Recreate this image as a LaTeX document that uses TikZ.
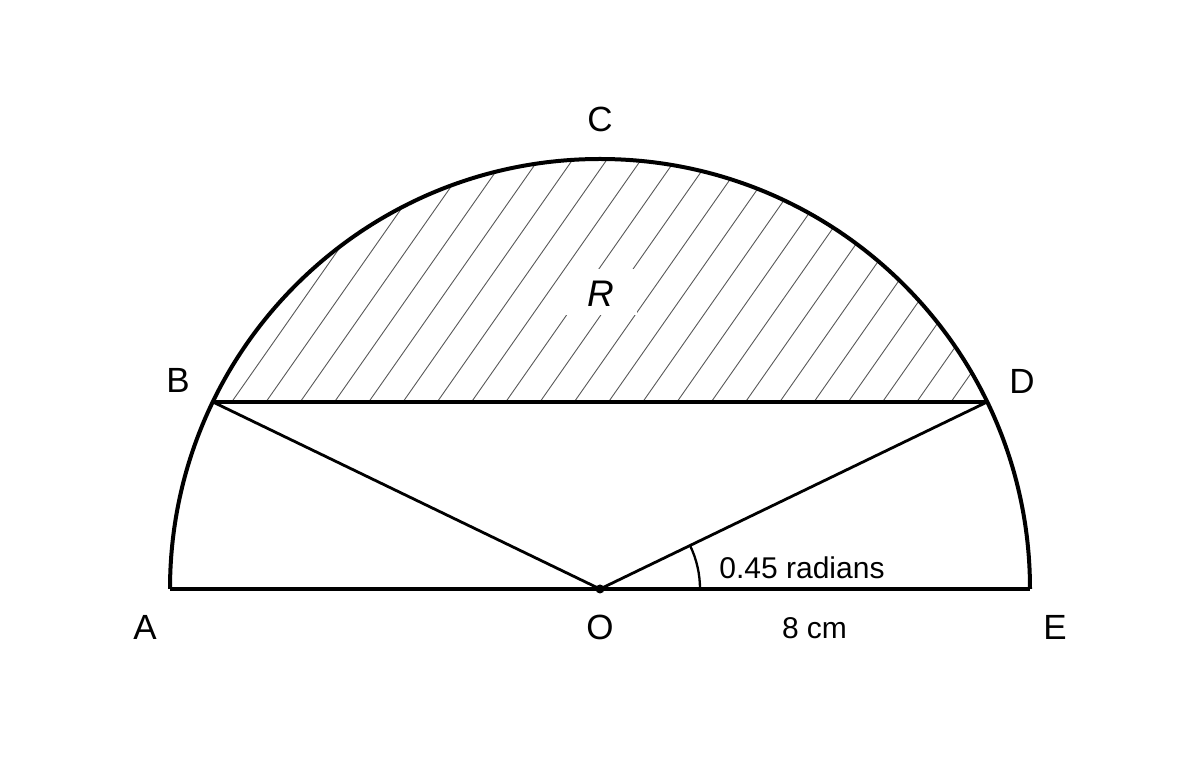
\documentclass[tikz,border=0pt]{standalone}
\usepackage{fontspec}
\setmainfont{Liberation Sans}
\usetikzlibrary{calc}
\begin{document}
\begin{tikzpicture}[x=1pt,y=1pt,
  heavy/.style={line width=4pt},
  mid/.style={line width=3.4pt},
  spoke/.style={line width=2.8pt},
  hatchline/.style={line width=0.9pt, black!65},
  ptlabel/.style={inner sep=0pt, font=\fontsize{35}{40}\selectfont},
  measure/.style={inner sep=0pt, font=\fontsize{30}{36}\selectfont}]
\useasboundingbox (0,0) rectangle (1200,760);
\fill[white] (0,0) rectangle (1200,760);
\coordinate (O) at (600,171);
\coordinate (A) at (170,171);
\coordinate (E) at (1030,171);
\coordinate (B) at (212.81,358.04);
\coordinate (D) at (987.19,358.04);
\coordinate (Q) at (700,171);
% hatching of region R
\begin{scope}
  \clip (B) arc[start angle=154.217, end angle=25.783, radius=430pt] -- cycle;
  \foreach \k in {0,...,23} {
    \draw[hatchline] ({231.7+34.25*\k},358) -- ++(55:460);
  }
\end{scope}
\node[fill=white, minimum width=72pt, minimum height=46pt, inner sep=0pt] (Rbox) at (601,468) {};
\node[ptlabel, font=\fontsize{37}{42}\selectfont\itshape] (R) at (601,466) {R};
% outline
\draw[heavy, line join=miter] (A) arc[start angle=180, end angle=0, radius=430pt];
\draw[mid] (A) -- (E);
\draw[mid] (B) -- (D);
\draw[spoke, line join=round] (B) -- (O) -- (D);
\draw[line width=2.3pt] (Q) arc[start angle=0, end angle=25.783, radius=100pt];
\fill (O) circle[radius=4.5pt];
% labels
\node[ptlabel] (lC) at (600,641) {C};
\node[ptlabel] (lB) at (178,380) {B};
\node[ptlabel] (lD) at (1022,379) {D};
\node[ptlabel] (lA) at (145,133) {A};
\node[ptlabel] (lO) at (600,133) {O};
\node[ptlabel] (lE) at (1055,133) {E};
\node[measure] (ang) at (802,192.5) {0.45 radians};
\node[measure] (len) at (814.5,132) {8 cm};
\end{tikzpicture}
\end{document}
